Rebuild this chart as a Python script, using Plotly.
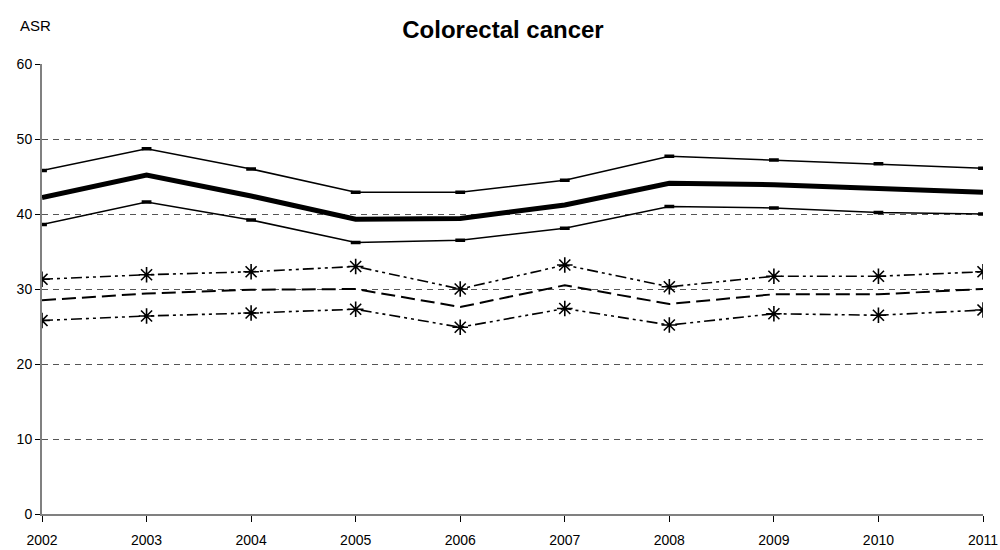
import plotly.graph_objects as go

years = [2002, 2003, 2004, 2005, 2006, 2007, 2008, 2009, 2010, 2011]

# Thick central series and its confidence bounds
asr_main = [42.2, 45.2, 42.4, 39.3, 39.4, 41.2, 44.1, 43.9, 43.4, 42.9]
asr_upper = [45.8, 48.7, 46.0, 42.9, 42.9, 44.5, 47.7, 47.2, 46.7, 46.1]
asr_lower = [38.6, 41.6, 39.2, 36.2, 36.5, 38.1, 41.0, 40.8, 40.2, 40.0]

# Dashed central series and its star-marked bounds
asr2_main = [28.5, 29.4, 29.9, 30.0, 27.6, 30.5, 28.0, 29.3, 29.3, 30.0]
asr2_upper = [31.3, 31.9, 32.3, 33.0, 30.0, 33.2, 30.3, 31.7, 31.7, 32.3]
asr2_lower = [25.8, 26.4, 26.8, 27.3, 24.9, 27.4, 25.2, 26.7, 26.5, 27.2]

y_ticks = [0, 10, 20, 30, 40, 50, 60]

FONT = "Liberation Sans, Arial, sans-serif"

W, H = 1000, 550
L, R, T, B = 42, 17, 64, 36
PW, PH = W - L - R, H - T - B

fig = go.Figure()

thin_marker = dict(symbol="line-ew", size=7, color="black", line=dict(width=3.5, color="black"))
star_marker = dict(symbol="asterisk", size=13, color="black", line=dict(width=1.6, color="black"))
dashdotdot = "11px,4px,3px,4px,3px,4px"

fig.add_trace(go.Scatter(x=years, y=asr_upper, mode="lines+markers",
                         line=dict(color="black", width=1.5), marker=thin_marker))
fig.add_trace(go.Scatter(x=years, y=asr_lower, mode="lines+markers",
                         line=dict(color="black", width=1.5), marker=thin_marker))
fig.add_trace(go.Scatter(x=years, y=asr_main, mode="lines",
                         line=dict(color="black", width=5)))

fig.add_trace(go.Scatter(x=years, y=asr2_upper, mode="lines+markers",
                         line=dict(color="black", width=1.6, dash=dashdotdot), marker=star_marker))
fig.add_trace(go.Scatter(x=years, y=asr2_lower, mode="lines+markers",
                         line=dict(color="black", width=1.6, dash=dashdotdot), marker=star_marker))
fig.add_trace(go.Scatter(x=years, y=asr2_main, mode="lines",
                         line=dict(color="black", width=2, dash="14px,6px")))

fig.update_layout(
    width=W, height=H,
    margin=dict(l=L, r=R, t=T, b=B, autoexpand=False),
    paper_bgcolor="white", plot_bgcolor="white",
    showlegend=False,
    font=dict(family=FONT, size=14, color="black"),
    title=dict(text="<b>Colorectal cancer</b>", x=503 / W, xanchor="center",
               y=1 - 30 / H, yanchor="middle",
               font=dict(family=FONT, size=24, color="black")),
    xaxis=dict(range=[2002, 2011], tickvals=years, ticktext=[str(y) for y in years],
               showgrid=False, zeroline=False, showline=True, linecolor="#808080", linewidth=2,
               ticks="outside", ticklen=6, tickcolor="black", tickwidth=1,
               ticklabelstandoff=6, automargin=False,
               tickfont=dict(size=14)),
    yaxis=dict(range=[0, 60], tickvals=y_ticks, ticktext=[str(v) for v in y_ticks],
               showgrid=True, gridcolor="#555555", gridwidth=1, griddash="6px,5px",
               zeroline=False, showline=True, linecolor="#808080", linewidth=2,
               ticks="outside", ticklen=5, tickcolor="black", tickwidth=1,
               automargin=False,
               tickfont=dict(size=14)),
    annotations=[dict(text="ASR", xref="paper", yref="paper", x=(35 - L) / PW,
                      y=(H - B - 25) / PH, xanchor="center", yanchor="middle",
                      showarrow=False, font=dict(size=15))],
)

fig.write_html("out.html", config={"displayModeBar": False},
               post_script="document.body.style.margin='0';document.body.style.overflow='hidden';")
